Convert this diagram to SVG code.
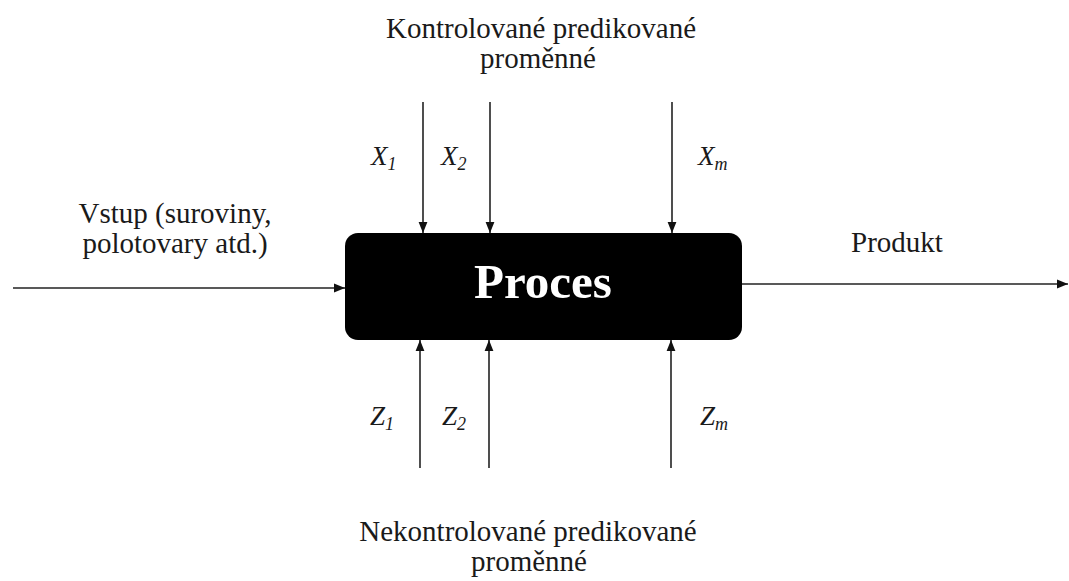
<svg xmlns="http://www.w3.org/2000/svg" width="1069" height="581" viewBox="0 0 1069 581">
  <style>
    .t { font-size: 29px; fill: #1a1a1a; text-anchor: middle; }
    .v { font-size: 27px; font-style: italic; fill: #1a1a1a; }
    .sub { font-size: 18px; }
    .ln { stroke: #222; stroke-width: 1.6; fill: none; marker-end: url(#ah); }
  </style>
  <defs>
    <marker id="ah" viewBox="0 0 10 10" refX="10" refY="5" markerWidth="11" markerHeight="11" markerUnits="userSpaceOnUse" orient="auto">
      <path d="M0,1 L10,5 L0,9 Z" fill="#111"/>
    </marker>
  </defs>
  <rect width="1069" height="581" fill="#fff"/>

  <!-- connectors -->
  <g id="connectors">
    <line class="ln" x1="13" y1="288" x2="345" y2="288"/>
    <line class="ln" x1="742" y1="284" x2="1068" y2="284"/>
    <line class="ln" x1="423" y1="102" x2="423" y2="233"/>
    <line class="ln" x1="490" y1="102" x2="490" y2="233"/>
    <line class="ln" x1="672" y1="102" x2="672" y2="233"/>
    <line class="ln" x1="420" y1="468" x2="420" y2="340"/>
    <line class="ln" x1="489" y1="468" x2="489" y2="340"/>
    <line class="ln" x1="671" y1="468" x2="671" y2="340"/>
  </g>

  <g font-family="Liberation Serif, Times New Roman, serif">
    <!-- process block -->
    <g id="proces">
      <rect x="345" y="233" width="397" height="107" rx="13" ry="13" fill="#000"/>
      <text x="543" y="298" font-size="49" font-weight="bold" fill="#fff" text-anchor="middle">Proces</text>
    </g>

    <g id="vstup">
      <text class="t" x="175" y="223">Vstup (suroviny,</text>
      <text class="t" x="175" y="253">polotovary atd.)</text>
    </g>

    <g id="produkt">
      <text class="t" x="897" y="252">Produkt</text>
    </g>

    <g id="kontrolovane">
      <text class="t" x="541" y="38">Kontrolované predikované</text>
      <text class="t" x="538" y="68">proměnné</text>
    </g>

    <g id="nekontrolovane">
      <text class="t" x="528" y="541">Nekontrolované predikované</text>
      <text class="t" x="529" y="571">proměnné</text>
    </g>

    <!-- controlled inputs -->
    <g id="x-labels">
      <text class="v" x="371" y="165">X<tspan class="sub" dy="5">1</tspan></text>
      <text class="v" x="441" y="165">X<tspan class="sub" dy="5">2</tspan></text>
      <text class="v" x="698" y="165">X<tspan class="sub" dy="5">m</tspan></text>
    </g>

    <!-- uncontrolled inputs -->
    <g id="z-labels">
      <text class="v" x="370" y="425">Z<tspan class="sub" dy="5">1</tspan></text>
      <text class="v" x="442" y="425">Z<tspan class="sub" dy="5">2</tspan></text>
      <text class="v" x="700" y="425">Z<tspan class="sub" dy="5">m</tspan></text>
    </g>
  </g>
</svg>
